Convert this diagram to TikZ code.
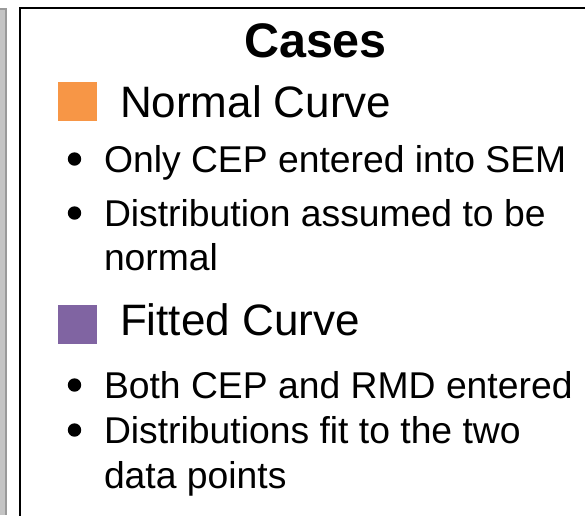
\documentclass[tikz,border=0pt]{standalone}
\usepackage{fontspec}
\setmainfont{Liberation Sans}
\definecolor{boxorange}{HTML}{F79646}
\definecolor{boxpurple}{HTML}{8064A2}
\definecolor{barlight}{HTML}{C4C4C4}
\definecolor{bardark}{HTML}{9A9A9A}
\begin{document}
\begin{tikzpicture}[x=1pt,y=-1pt,
  txt/.style={inner sep=0pt,outer sep=0pt,anchor=base west,text=black},
  headtxt/.style={txt,font=\fontsize{44}{52}\selectfont},
  bullettxt/.style={txt,font=\fontsize{37.3}{44}\selectfont},
  bulletdot/.style={circle,fill=black,inner sep=0pt,minimum size=13.4pt},
  colsquare/.style={inner sep=0pt,minimum size=39pt}]
\useasboundingbox (0,0) rectangle (585,515);
% left gray bar
\fill[barlight] (0,8) rectangle (6.5,515);
\draw[bardark,line width=1.6pt] (0,8.8) -- (5.8,8.8) -- (5.8,515);
% frame
\draw[black,line width=2.6pt] (20,516) -- (20,8) -- (586,8);
% title
\node[txt,anchor=base,font=\bfseries\fontsize{48.5}{58}\selectfont] (title) at (315.5,57) {Cases};
% Normal curve
\node[colsquare,fill=boxorange] (sq1) at (77.5,101.5) {};
\node[headtxt] (h1) at (120,117) {Normal Curve};
\node[bulletdot] (b1) at (74.5,159) {};
\node[bullettxt] (t1) at (104,172) {Only CEP entered into SEM};
\node[bulletdot] (b2) at (74.5,213) {};
\node[bullettxt] (t2) at (104,226) {Distribution assumed to be};
\node[bullettxt] (t2b) at (104,270) {normal};
% Fitted curve
\node[colsquare,fill=boxpurple] (sq2) at (77.5,324) {};
\node[headtxt] (h2) at (120,335) {Fitted Curve};
\node[bulletdot] (b3) at (74.5,385) {};
\node[bullettxt] (t3) at (104,398) {Both CEP and RMD entered};
\node[bulletdot] (b4) at (74.5,430) {};
\node[bullettxt] (t4) at (104,443) {Distributions fit to the two};
\node[bullettxt] (t4b) at (104,488) {data points};
\end{tikzpicture}
\end{document}
